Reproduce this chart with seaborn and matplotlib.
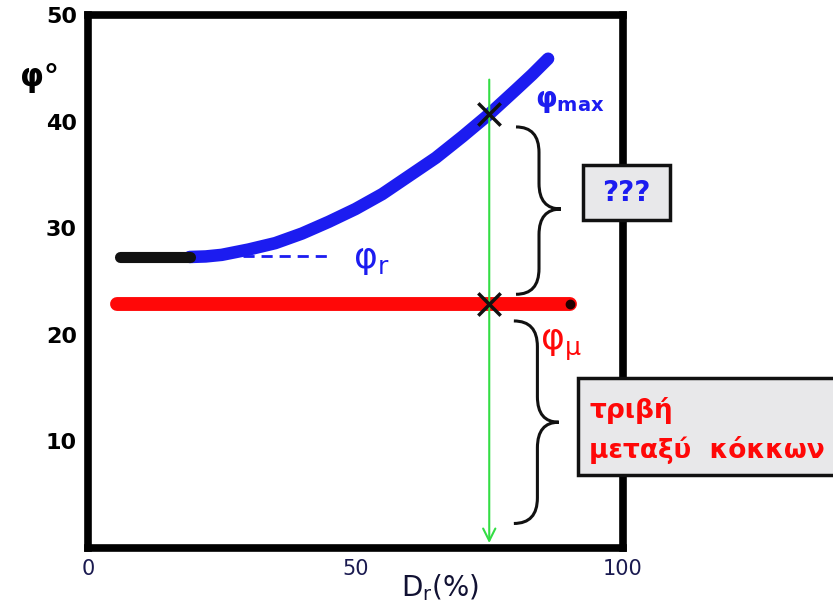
import numpy as np
import matplotlib
matplotlib.use("Agg")
import matplotlib.pyplot as plt
from matplotlib.path import Path
from matplotlib.patches import PathPatch, Rectangle
import seaborn as sns

# data
dr_flat = [6, 19]
phi_flat = [27.3, 27.3]
dr_max = [19, 22, 25, 30, 35, 40, 45, 50, 55, 60, 65, 70, 75, 80, 83, 86]
phi_max = [27.3, 27.35, 27.5, 28.0, 28.6, 29.5, 30.6, 31.8, 33.2, 34.9, 36.6, 38.6, 40.7, 43.0, 44.4, 45.9]
dr_mu = [5.5, 90]
phi_mu = [22.9, 22.9]
dr_dash = [29, 45.5]
phi_dash = [27.4, 27.4]
dr_crit = 75
phi_cross = [40.7, 22.9]
x_ticks = [0, 50, 100]
y_ticks = [10, 20, 30, 40, 50]

BLUE = "#1c1cf0"
RED = "#ff0808"
GREEN = "#33dd44"

sns.set_style("white")
plt.rcParams["font.family"] = ["DejaVu Sans"]
plt.rcParams["text.color"] = "black"


def brace(ax, xl, xm, xt, yt, ytip, yb, d):
    verts = [(xl, yt), (xm, yt), (xm, yt - d),
             (xm, ytip + d),
             (xm, ytip), (xt, ytip),
             (xm, ytip), (xm, ytip - d),
             (xm, yb + d),
             (xm, yb), (xl, yb)]
    codes = [Path.MOVETO, Path.CURVE3, Path.CURVE3,
             Path.LINETO,
             Path.CURVE3, Path.CURVE3,
             Path.CURVE3, Path.CURVE3,
             Path.LINETO,
             Path.CURVE3, Path.CURVE3]
    ax.add_patch(PathPatch(Path(verts, codes), fill=False, lw=2.2,
                           color="#111111", clip_on=False, zorder=5))


def main():
    fig = plt.figure(figsize=(8.33, 6.09), dpi=100)
    ax = fig.add_axes([88 / 833, 61 / 609, 535 / 833, 533 / 609])

    # curves
    sns.lineplot(x=dr_max, y=phi_max, ax=ax, color=BLUE, lw=9,
                 solid_capstyle="round", solid_joinstyle="round", zorder=3)
    sns.lineplot(x=dr_flat, y=phi_flat, ax=ax, color="#111111", lw=8,
                 solid_capstyle="round", zorder=4)
    sns.lineplot(x=dr_mu, y=phi_mu, ax=ax, color=RED, lw=10,
                 solid_capstyle="round", zorder=3)
    ax.plot(dr_mu[-1], phi_mu[-1], "o", color="#220000", ms=6, zorder=4)
    sns.lineplot(x=dr_dash, y=phi_dash, ax=ax, color=BLUE, lw=2,
                 dashes=(4, 2.5), zorder=3)

    # vertical guide with arrow
    ax.annotate("", xy=(dr_crit, 0.2), xytext=(dr_crit, 44.2),
                arrowprops=dict(arrowstyle="->", color=GREEN, lw=1.5,
                                mutation_scale=22), zorder=4)
    ax.scatter([dr_crit] * len(phi_cross), phi_cross, marker="x", s=260,
               color="#111111", linewidths=2.5, zorder=6)

    # braces
    brace(ax, 80.0, 84.3, 88.4, 39.5, 31.8, 23.8, 2.4)
    brace(ax, 79.6, 84.0, 88.0, 21.3, 11.8, 2.3, 2.4)

    # labels on curves
    ax.text(83.6, 41.9, r"φ$_\mathregular{max}$", color=BLUE, fontsize=20,
            fontweight="bold", ha="left", va="center", clip_on=False, zorder=6)
    ax.text(84.5, 19.0, r"φ$_\mathregular{μ}$", color=RED, fontsize=26,
            ha="left", va="center", clip_on=False, zorder=6)
    ax.text(49.6, 27.0, r"φ$_\mathregular{r}$", color=BLUE, fontsize=26,
            ha="left", va="center", zorder=6)

    # axes
    ax.set_xlim(0, 100)
    ax.set_ylim(0, 50)
    ax.set_xticks(x_ticks)
    ax.set_xticks(np.arange(10, 100, 10), minor=True)
    ax.set_yticks(y_ticks)
    ax.set_yticks(np.arange(5, 50, 10), minor=True)
    ax.set_xticklabels([str(v) for v in x_ticks], color="#1a1a50", fontsize=15)
    ax.set_yticklabels([str(v) for v in y_ticks], fontweight="bold", fontsize=16,
                       color="black")
    ax.tick_params(axis="x", which="major", direction="in", length=12, width=2.5,
                   pad=8, color="black")
    ax.tick_params(axis="x", which="minor", direction="in", length=8, width=2.5,
                   color="black")
    ax.tick_params(axis="y", which="major", direction="in", length=16, width=2.5,
                   pad=8, color="black")
    ax.tick_params(axis="y", which="minor", direction="in", length=10, width=2.5,
                   color="black")
    for s in ax.spines.values():
        s.set_visible(True)
        s.set_linewidth(5.5)
        s.set_color("#000000")

    fig.text(40 / 833, 1 - 78 / 609, "φ°", fontsize=22, fontweight="bold",
             ha="center", va="center")
    fig.text(440 / 833, 1 - 588 / 609, r"D$_\mathregular{r}$(%)", fontsize=20,
             ha="center", va="center", color="#111133")

    # boxes
    fig.add_artist(Rectangle((583 / 833, 389 / 609), 87 / 833, 55 / 609,
                             transform=fig.transFigure, facecolor="#e8e8ea",
                             edgecolor="#111111", lw=2.5, zorder=10))
    fig.text(626 / 833, 1 - 193 / 609, "???", color=BLUE, fontsize=20,
             fontweight="bold", ha="center", va="center", zorder=11)
    fig.add_artist(Rectangle((578 / 833, 134 / 609), 260 / 833, 97 / 609,
                             transform=fig.transFigure, facecolor="#e8e8ea",
                             edgecolor="#111111", lw=2.5, zorder=10))
    fig.text(589 / 833, 1 - 410 / 609, "τριβή", color=RED, fontsize=19,
             fontweight="bold", ha="left", va="center", zorder=11)
    fig.text(589 / 833, 1 - 450 / 609, "μεταξύ  κόκκων", color=RED, fontsize=19,
             fontweight="bold", ha="left", va="center", zorder=11)

    fig.savefig("out.png", dpi=100)


if __name__ == "__main__":
    main()
